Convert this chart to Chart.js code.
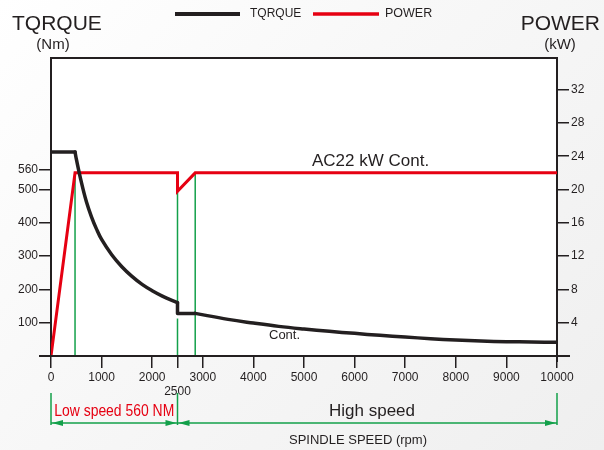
<!DOCTYPE html>
<html>
<head>
<meta charset="utf-8">
<script src="https://cdn.jsdelivr.net/npm/chart.js@4/dist/chart.umd.min.js"></script>
<style>
html,body{margin:0;padding:0;}
body{width:604px;height:450px;overflow:hidden;background:linear-gradient(135deg,#ffffff 0%,#f8f8f8 40%,#efefef 100%);}
#wrap{position:relative;width:604px;height:450px;}
</style>
</head>
<body>
<div id="wrap"><canvas id="c" width="604" height="450"></canvas></div>
<script>
// ---- data ----
const torqueRpm = [0, 475, 500, 600, 700, 800, 900, 1000, 1200, 1400, 1600, 1800, 2000, 2200, 2500, 2500, 2850,
                   3500, 4000, 4500, 5000, 5500, 6000, 6500, 7000, 7500, 8000, 8500, 9000, 9500, 10000];
const torqueNm  = [613, 613, 592, 522, 463, 418, 381, 350, 304, 268, 239, 215, 196, 180, 160, 128, 128,
                   110, 99, 89, 81, 74, 68, 62, 57, 52, 48, 45, 43, 42, 41];
const powerRpm  = [0, 475, 2500, 2500, 2850, 10000];
const powerKw   = [0, 22, 22, 19.8, 22, 22];
// green guide lines (rpm, from kW, to kW)
const guideRpm    = [475, 2500, 2500, 2850];
const guideFromKw = [0, 0, 6.4, 0];
const guideToKw   = [22, 4.5, 19.8, 22];
const xTicks     = [0, 1000, 2000, 2500, 3000, 4000, 5000, 6000, 7000, 8000, 9000, 10000];
const leftTicks  = [100, 200, 300, 400, 500, 560];
const rightTicks = [4, 8, 12, 16, 20, 24, 28, 32];
const seriesNames = ['TQRQUE', 'POWER'];

const INK = '#231f20', RED = '#e60012', GREEN = '#13a04a';
const FONT = "'Liberation Sans', Arial, Helvetica, sans-serif";
Chart.defaults.font.family = FONT;
Chart.defaults.color = INK;

// split the torque series into straight runs (flat / vertical) and curved runs
const torquePts = torqueRpm.map((r, i) => ({x: r, y: torqueNm[i]}));
const runs = [];
for (let i = 0; i < torquePts.length - 1; i++) {
  const a = torquePts[i], b = torquePts[i + 1];
  const straight = a.x === b.x || a.y === b.y;
  const last = runs[runs.length - 1];
  if (last && last.straight === straight) last.pts.push(b);
  else runs.push({straight, pts: [a, b]});
}
const datasets = runs.map((r, k) => ({
  label: seriesNames[0] + k, data: r.pts, yAxisID: 'y',
  borderColor: INK, borderWidth: 3.5, pointRadius: 0, tension: r.straight ? 0 : 0.4,
  borderCapStyle: 'round', borderJoinStyle: 'round', fill: false
}));
datasets.push({ label: seriesNames[1], data: powerRpm.map((r, i) => ({x: r, y: powerKw[i]})), yAxisID: 'y1',
  borderColor: RED, borderWidth: 3, pointRadius: 0, tension: 0, fill: false });
guideRpm.forEach((r, i) => datasets.push({
  label: 'guide' + i, data: [{x: r, y: guideFromKw[i]}, {x: r, y: guideToKw[i]}], yAxisID: 'y1',
  borderColor: GREEN, borderWidth: 1.5, pointRadius: 0, fill: false
}));

function text(ctx, s, x, y, font, color, align) {
  ctx.font = font; ctx.fillStyle = color; ctx.textAlign = align || 'left'; ctx.textBaseline = 'middle';
  ctx.fillText(s, x, y);
}
function condensed(ctx, s, cx, cy, font, color, width) {
  ctx.save(); ctx.font = font;
  const w = ctx.measureText(s).width, k = Math.min(1, width / w);
  ctx.translate(cx, cy); ctx.scale(k, 1);
  ctx.fillStyle = color; ctx.textAlign = 'center'; ctx.textBaseline = 'middle';
  ctx.fillText(s, 0, 0); ctx.restore();
}

const decor = {
  id: 'decor',
  beforeDraw(chart) {
    const {ctx, chartArea: a} = chart;
    ctx.save(); ctx.fillStyle = '#ffffff';
    ctx.fillRect(a.left, a.top, a.right - a.left, a.bottom - a.top); ctx.restore();
  },
  afterDraw(chart) {
    const {ctx, chartArea: a, scales} = chart;
    const xs = scales.x;
    ctx.save();
    // frame
    ctx.strokeStyle = INK; ctx.lineWidth = 2;
    ctx.beginPath(); ctx.moveTo(a.left - 1, a.top); ctx.lineTo(a.right + 1, a.top); ctx.stroke();
    ctx.beginPath(); ctx.moveTo(a.left - 12, a.bottom); ctx.lineTo(a.right + 13, a.bottom); ctx.stroke();
    ctx.beginPath(); ctx.moveTo(a.right, a.bottom); ctx.lineTo(a.right, a.bottom + 6); ctx.stroke();
    // axis titles
    text(ctx, 'TQRQUE', 12, 24, '21px ' + FONT, INK, 'left');
    text(ctx, '(Nm)', 53, 45, '15px ' + FONT, INK, 'center');
    text(ctx, 'POWER', 600, 24, '21px ' + FONT, INK, 'right');
    text(ctx, '(kW)', 560, 45, '15px ' + FONT, INK, 'center');
    // legend
    ctx.lineCap = 'butt';
    ctx.strokeStyle = INK; ctx.lineWidth = 4;
    ctx.beginPath(); ctx.moveTo(175, 14); ctx.lineTo(240, 14); ctx.stroke();
    text(ctx, seriesNames[0], 250, 14, '12px ' + FONT, INK, 'left');
    ctx.strokeStyle = RED; ctx.lineWidth = 3.5;
    ctx.beginPath(); ctx.moveTo(313, 14); ctx.lineTo(379, 14); ctx.stroke();
    text(ctx, seriesNames[1], 385, 14, '12.5px ' + FONT, INK, 'left');
    // in-plot labels
    text(ctx, 'AC22 kW Cont.', 312, 161, '17px ' + FONT, INK, 'left');
    text(ctx, 'Cont.', 269, 335, '13px ' + FONT, INK, 'left');
    // speed ranges
    const x0 = xs.getPixelForValue(0), x1 = xs.getPixelForValue(2500), x2 = xs.getPixelForValue(10000);
    const yA = 423;
    ctx.strokeStyle = GREEN; ctx.fillStyle = GREEN; ctx.lineWidth = 1.5;
    [x0, x1, x2].forEach(px => { ctx.beginPath(); ctx.moveTo(px, 393); ctx.lineTo(px, 425); ctx.stroke(); });
    ctx.beginPath(); ctx.moveTo(x0, yA); ctx.lineTo(x2, yA); ctx.stroke();
    const arrow = (tip, dir) => {
      ctx.beginPath(); ctx.moveTo(tip, yA); ctx.lineTo(tip - dir * 11, yA - 3); ctx.lineTo(tip - dir * 11, yA + 3);
      ctx.closePath(); ctx.fill();
    };
    arrow(x0 + 1, -1); arrow(x1 - 1, 1); arrow(x1 + 1, -1); arrow(x2 - 1, 1);
    condensed(ctx, 'Low speed 560 NM', (x0 + x1) / 2, 411, '17px ' + FONT, RED, 120);
    text(ctx, 'High speed', 372, 411, '17px ' + FONT, INK, 'center');
    text(ctx, 'SPINDLE SPEED (rpm)', 358, 440, '13px ' + FONT, INK, 'center');
    ctx.restore();
  }
};

new Chart(document.getElementById('c'), {
  type: 'line',
  data: { datasets },
  options: {
    responsive: false, animation: false, devicePixelRatio: 1,
    layout: { padding: { top: 58, left: 0, right: 0, bottom: 0 } },
    plugins: { legend: { display: false }, tooltip: { enabled: false } },
    scales: {
      x: {
        type: 'linear', position: 'bottom', min: 0, max: 10000,
        afterBuildTicks: s => { s.ticks = xTicks.map(v => ({value: v})); },
        afterFit: s => { s.height = 94; },
        ticks: { autoSkip: false, maxRotation: 0, padding: 2, font: { size: 12 }, color: INK,
                 callback: v => v === 2500 ? ['', '2500'] : String(v) },
        grid: { drawOnChartArea: false, drawTicks: true, tickLength: 12, color: INK, lineWidth: 1.5 },
        border: { display: true, color: INK, width: 2 }
      },
      y: {
        type: 'linear', position: 'left', min: 0, max: 895,
        afterBuildTicks: s => { s.ticks = leftTicks.map(v => ({value: v})); },
        afterFit: s => { s.width = 51; },
        ticks: { padding: 1, font: { size: 12 }, color: INK },
        grid: { drawOnChartArea: false, drawTicks: true, tickLength: 12, color: INK, lineWidth: 1.5 },
        border: { display: true, color: INK, width: 2 }
      },
      y1: {
        type: 'linear', position: 'right', min: 0, max: 35.8,
        afterBuildTicks: s => { s.ticks = rightTicks.map(v => ({value: v})); },
        afterFit: s => { s.width = 47; },
        ticks: { padding: 2, font: { size: 12 }, color: INK },
        grid: { drawOnChartArea: false, drawTicks: true, tickLength: 12, color: INK, lineWidth: 1.5 },
        border: { display: true, color: INK, width: 2 }
      }
    }
  },
  plugins: [decor]
});
</script>
</body>
</html>
